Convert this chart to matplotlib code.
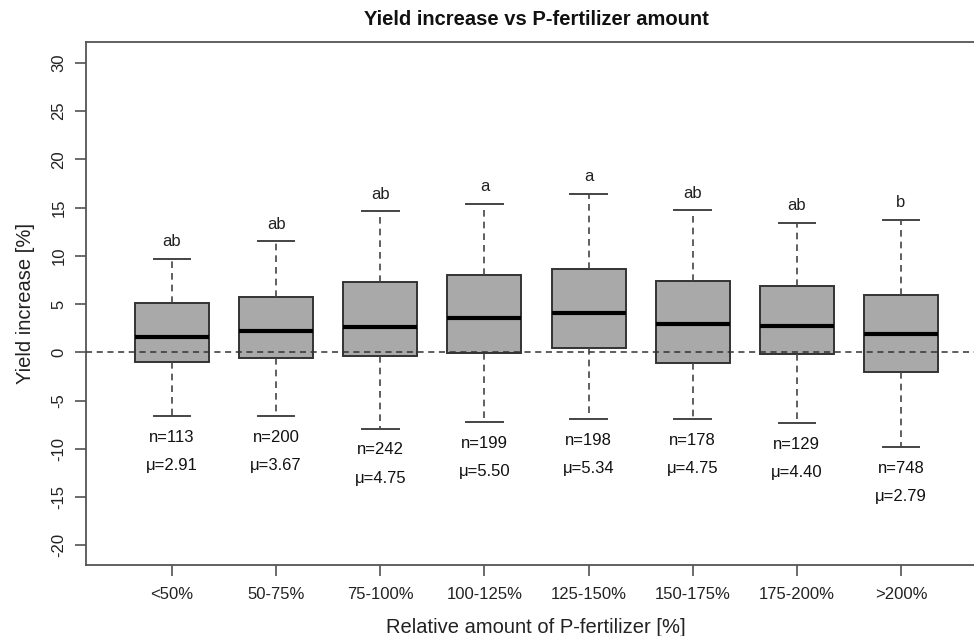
import numpy as np
import matplotlib.pyplot as plt

plt.rcParams['font.family'] = ['Liberation Sans', 'DejaVu Sans']
plt.rcParams['axes.unicode_minus'] = False

# categories and box statistics
groups = ['<50%', '50-75%', '75-100%', '100-125%', '125-150%', '150-175%', '175-200%', '>200%']
whislo = [-6.6, -6.6, -7.9, -7.2, -6.9, -6.9, -7.3, -9.8]
q1 = [-1.0, -0.6, -0.4, -0.1, 0.4, -1.1, -0.2, -2.0]
med = [1.6, 2.2, 2.6, 3.6, 4.1, 2.9, 2.7, 1.9]
q3 = [5.1, 5.7, 7.3, 8.0, 8.6, 7.4, 6.9, 5.9]
whishi = [9.7, 11.5, 14.6, 15.4, 16.4, 14.7, 13.4, 13.7]
letters = ['ab', 'ab', 'ab', 'a', 'a', 'ab', 'ab', 'b']
n_obs = [113, 200, 242, 199, 198, 178, 129, 748]
means = [2.91, 3.67, 4.75, 5.50, 5.34, 4.75, 4.40, 2.79]

stats = []
for i in range(len(groups)):
    stats.append({'label': groups[i], 'whislo': whislo[i], 'q1': q1[i], 'med': med[i],
                  'q3': q3[i], 'whishi': whishi[i], 'fliers': []})

fig = plt.figure(figsize=(9.74, 6.36), dpi=100)
ax = fig.add_axes([0.088, 0.1116, 1.0127 - 0.088, 0.9344 - 0.1116])

pos = np.arange(1, len(groups) + 1)
ax.bxp(stats, positions=pos, widths=0.71, patch_artist=True, showfliers=False,
       boxprops=dict(facecolor='#a9a9a9', edgecolor='#333333', linewidth=1.4),
       medianprops=dict(color='black', linewidth=3),
       whiskerprops=dict(color='#444444', linestyle=(0, (4, 3)), linewidth=1.2),
       capprops=dict(color='#444444', linewidth=1.4),
       capwidths=0.35)

ax.axhline(0, color='#333333', linestyle=(0, (4, 3)), linewidth=1.1, zorder=5)

# group letters and counts
for i in range(len(groups)):
    ax.text(pos[i], whishi[i] + 1.8, letters[i], ha='center', va='center',
            fontsize=12, color='#222222')
    ax.text(pos[i], whislo[i] - 2.2, 'n=%d' % n_obs[i], ha='center', va='center',
            fontsize=12, color='#111111')
    ax.text(pos[i], whislo[i] - 5.15, 'μ=%.2f' % means[i], ha='center', va='center',
            fontsize=12, color='#111111')

ax.set_xlim(0.171, 8.82)
ax.set_ylim(-22.04, 32.19)
ax.set_yticks(np.arange(-20, 31, 5))
ax.set_xticks(pos)
ax.set_xticklabels(groups)
ax.tick_params(axis='y', labelrotation=90, length=8, width=1.1, color='#444444',
               labelsize=12, labelcolor='#222222', pad=6)
for t in ax.get_yticklabels():
    t.set_va('center')
ax.tick_params(axis='x', length=8, width=1.1, color='#444444',
               labelsize=12, labelcolor='#222222', pad=8)
for s in ax.spines.values():
    s.set_color('#555555')
    s.set_linewidth(1.3)

ax.set_title('Yield increase vs P-fertilizer amount', fontsize=14.5, fontweight='bold',
             color='#111111', pad=12)
ax.set_xlabel('Relative amount of P-fertilizer [%]', fontsize=14.5, color='#222222', labelpad=11)
ax.set_ylabel('Yield increase [%]', fontsize=14.5, color='#222222', labelpad=12)

fig.savefig('out.png', dpi=100)
